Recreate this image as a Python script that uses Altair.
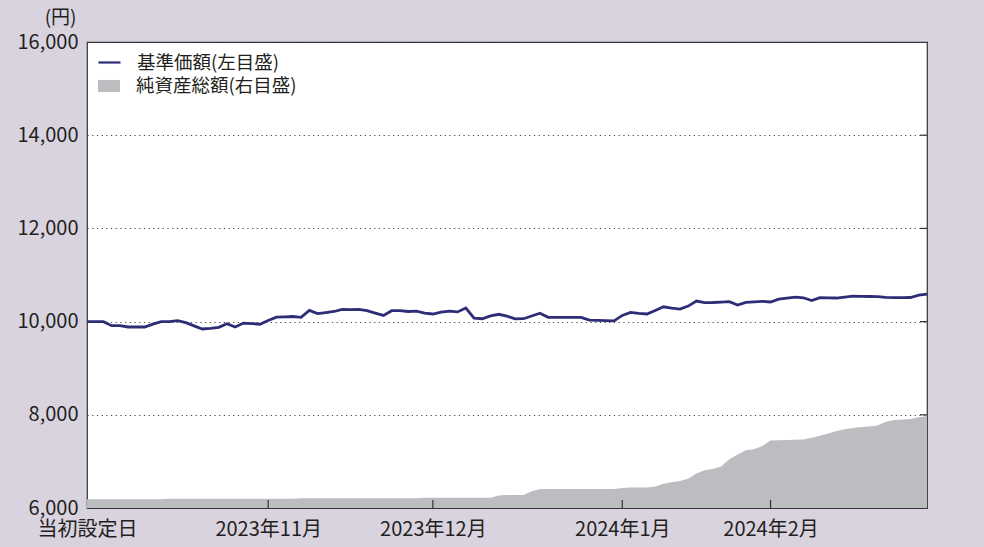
import altair as alt
import pandas as pd

# 基準価額 (円), one value per business day from 当初設定日
nav = [9998, 9998, 9998, 9912, 9912, 9884, 9884, 9884, 9946, 10000,
       9998, 10021, 9979, 9908, 9841, 9856, 9878, 9955, 9884, 9968,
       9957, 9944, 10024, 10094, 10103, 10109, 10090, 10240, 10172, 10193,
       10217, 10264, 10258, 10260, 10234, 10182, 10133, 10234, 10234, 10217,
       10223, 10180, 10163, 10202, 10223, 10208, 10290, 10073, 10062, 10122,
       10157, 10116, 10058, 10062, 10120, 10180, 10092, 10092, 10092, 10092,
       10092, 10032, 10026, 10021, 10015, 10133, 10197, 10176, 10163, 10238,
       10318, 10288, 10270, 10333, 10440, 10406, 10410, 10418, 10427, 10354,
       10412, 10423, 10436, 10421, 10481, 10504, 10524, 10511, 10451, 10513,
       10511, 10506, 10526, 10547, 10543, 10539, 10534, 10519, 10513, 10513,
       10517, 10567, 10592]

# 純資産総額 (億円)
assets = [0.19, 0.19, 0.19, 0.19, 0.19, 0.19, 0.19, 0.19, 0.19, 0.19,
          0.20, 0.20, 0.20, 0.20, 0.20, 0.20, 0.20, 0.20, 0.20, 0.20,
          0.20, 0.20, 0.20, 0.20, 0.20, 0.20, 0.21, 0.21, 0.21, 0.21,
          0.21, 0.21, 0.21, 0.21, 0.21, 0.21, 0.21, 0.21, 0.21, 0.21,
          0.21, 0.22, 0.22, 0.22, 0.22, 0.22, 0.22, 0.22, 0.22, 0.22,
          0.27, 0.28, 0.28, 0.28, 0.36, 0.40, 0.41, 0.41, 0.41, 0.41,
          0.41, 0.41, 0.41, 0.41, 0.41, 0.43, 0.44, 0.44, 0.44, 0.46,
          0.52, 0.55, 0.58, 0.63, 0.74, 0.81, 0.835, 0.89, 1.045, 1.15,
          1.24, 1.26, 1.33, 1.45, 1.455, 1.46, 1.465, 1.47, 1.51, 1.55,
          1.60, 1.65, 1.69, 1.715, 1.74, 1.75, 1.77, 1.85, 1.89, 1.90,
          1.91, 1.95, 1.975]

tick_idx = [0, 22, 42, 65, 83]
tick_labels = ["当初設定日", "2023年11月", "2023年12月", "2024年1月", "2024年2月"]
left_ticks = [6000, 8000, 10000, 12000, 14000, 16000]
right_ticks = [0, 2, 4, 6, 8, 10]
series_names = ["基準価額(左目盛)", "純資産総額(右目盛)"]

FONT = "Noto Sans CJK JP"
TEXT = "#231f20"
DARK = "#333333"
NAVY = "#2e2d78"
GRAY = "#bcbdc0"
BG = "#d9d3df"
W, H = 840, 466
AX_FS = 20
LG_FS = 18.5
TT_FS = 19

df = pd.DataFrame({"i": list(range(len(nav))), "nav": nav, "assets": assets,
                   "s_nav": [series_names[0]] * len(nav),
                   "s_assets": [series_names[1]] * len(nav)})

label_expr = ""
for v, lab in zip(tick_idx, tick_labels):
    label_expr += f"datum.value == {v} ? '{lab}' : "
label_expr += "''"

x_scale = alt.Scale(domain=[0, len(nav) - 1], nice=False, zero=False)
x_axis = alt.Axis(values=tick_idx, labelExpr=label_expr, title=None, grid=False,
                  ticks=False, domain=False, labelPadding=11, labelFontSize=AX_FS,
                  labelFont=FONT, labelColor=TEXT, labelFlush=False, labelOverlap=False)

right_scale = alt.Scale(domain=[0, 10], nice=False, zero=True)

area = alt.Chart(df).mark_area(interpolate="linear").encode(
    x=alt.X("i:Q", scale=x_scale, axis=x_axis),
    y=alt.Y("assets:Q", scale=right_scale,
            axis=alt.Axis(orient="right", values=right_ticks, grid=False, ticks=False,
                          domain=False, title="(億円)", titleAngle=0, titleAlign="right",
                          titleBaseline="middle", titleX=30, titleY=-25,
                          titleFont=FONT, titleFontSize=TT_FS, titleFontWeight="normal",
                          titleColor=TEXT, labelAlign="right", labelPadding=32,
                          labelFontSize=AX_FS, labelFont=FONT, labelColor=TEXT,
                          labelExpr="format(datum.value, 'd')")),
    fill=alt.Fill("s_assets:N",
                  scale=alt.Scale(domain=[series_names[1]], range=[GRAY]),
                  legend=alt.Legend(title=None, orient="none", legendX=10, legendY=32,
                                    padding=0, symbolType="M-1,-0.55H1V0.55H-1Z",
                                    symbolSize=484, symbolOpacity=1, labelLimit=400,
                                    labelFontSize=LG_FS, labelFont=FONT,
                                    labelColor=TEXT, labelOffset=15)),
)

rticks = alt.Chart(pd.DataFrame({"v": right_ticks[1:-1]})).mark_rule(
    color=DARK, strokeWidth=1.2).encode(
    y=alt.Y("v:Q", scale=right_scale, axis=None),
    x=alt.value(W - 7), x2=alt.value(W))

area_group = alt.layer(area, rticks)

line = alt.Chart(df).mark_line(strokeWidth=2.8).encode(
    x=alt.X("i:Q", scale=x_scale, axis=x_axis),
    y=alt.Y("nav:Q", scale=alt.Scale(domain=[6000, 16000], nice=False, zero=False),
            axis=alt.Axis(orient="left", values=left_ticks, grid=True,
                          labelExpr="format(datum.value, ',')",
                          gridDash=[1.2, 3.5], gridColor="#444444", gridWidth=1,
                          ticks=False, domain=False, title="(円)", titleAngle=0,
                          titleAlign="right", titleBaseline="middle", titleX=-11,
                          titleY=-25, titleFont=FONT, titleFontSize=TT_FS,
                          titleFontWeight="normal", titleColor=TEXT, labelPadding=9,
                          labelFontSize=AX_FS, labelFont=FONT, labelColor=TEXT)),
    stroke=alt.Stroke("s_nav:N",
                      scale=alt.Scale(domain=[series_names[0]], range=[NAVY]),
                      legend=alt.Legend(title=None, orient="none", legendX=10,
                                        legendY=8, padding=0, symbolType="stroke",
                                        symbolSize=484, symbolStrokeWidth=2.2,
                                        labelLimit=400,
                                        labelFontSize=LG_FS, labelFont=FONT,
                                        labelColor=TEXT, labelOffset=15)),
)

xticks = alt.Chart(pd.DataFrame({"t": tick_idx[1:]})).mark_rule(
    color=DARK, strokeWidth=1.2).encode(
    x=alt.X("t:Q", scale=x_scale, axis=x_axis),
    y=alt.value(H - 8), y2=alt.value(H))

line_group = alt.layer(line, xticks)

chart = alt.layer(area_group, line_group).resolve_scale(y="independent").properties(
    width=W, height=H,
    padding={"left": 87, "top": 42, "right": 57, "bottom": 39},
    autosize=alt.AutoSizeParams(type="none"),
    background=BG,
).configure_view(fill="white", stroke=DARK, strokeWidth=1.2)

chart.save("out.html", embed_options={"renderer": "svg", "actions": False})
